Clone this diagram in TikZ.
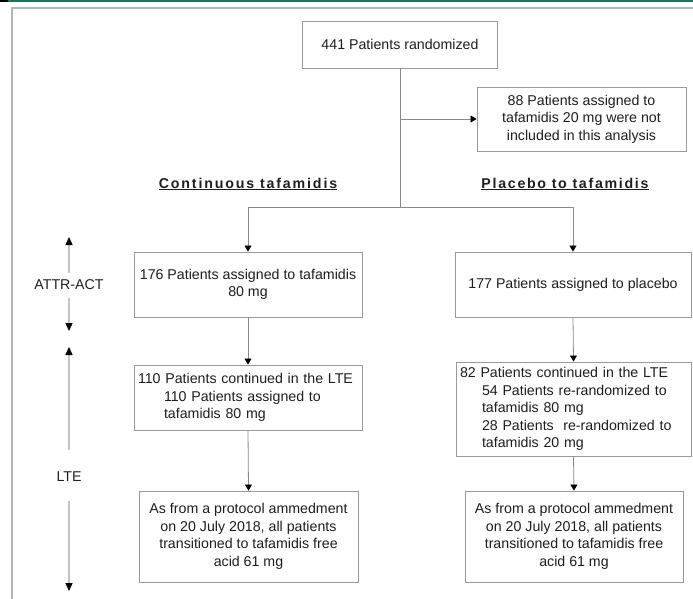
\documentclass[tikz,border=0pt]{standalone}
\usepackage{fontspec}
\setmainfont{Liberation Sans}
\usetikzlibrary{arrows.meta}
\definecolor{txt}{HTML}{1E1E1E}
\definecolor{boxline}{HTML}{9A9A9A}
\definecolor{conn}{HTML}{8A8A8A}
\definecolor{sidegray}{HTML}{C4C4C4}
\definecolor{framegray}{HTML}{B4B4B4}
\definecolor{tealtop}{HTML}{23705F}
\tikzset{
  flowbox/.style={draw=boxline, line width=0.9pt, fill=white, text=txt, align=center,
    inner sep=0pt, font=\fontsize{14.2}{17.5}\selectfont},
  leftbox/.style={draw=boxline, line width=0.9pt, fill=white, text=txt, align=left,
    inner xsep=4pt, inner ysep=0pt, font=\fontsize{14.2}{17.5}\selectfont},
  connector/.style={draw=conn, line width=0.8pt},
  arrowed/.style={connector, -{Triangle[color=black, width=7pt, length=6pt]}},
  sidearrow/.style={draw=sidegray, line width=1.4pt, -{Triangle[color=black, width=7pt, length=8pt]}},
  sidelabel/.style={text=txt, font=\fontsize{14.2}{17}\selectfont, inner sep=0pt},
  heading/.style={text=txt, inner sep=0pt, font=\fontsize{14.2}{17}\selectfont\bfseries}
}
\begin{document}
\begin{tikzpicture}[x=1pt, y=-1pt]
\useasboundingbox (0,0) rectangle (693,599);
% top teal rule and frame
\fill[tealtop] (0,0) rectangle (693,2);
\fill[black] (0,0) rectangle (8,2.5);
\draw[framegray, line width=2pt] (12,599) -- (12,8) -- (693,8);

% boxes
\node[flowbox, minimum width=195pt, minimum height=47pt] (top) at (400,44.5) {441 Patients randomized};
\node[flowbox, minimum width=209pt, minimum height=64pt] (excl) at (581.5,119)
  {88 Patients assigned to\\tafamidis 20 mg were not\\included in this analysis};

\node[heading] (hL) at (248,184) {\addfontfeatures{LetterSpace=13}\underline{Continuous tafamidis}};
\node[heading] (hR) at (565,184) {\addfontfeatures{LetterSpace=12}\underline{Placebo to tafamidis}};

\node[flowbox, minimum width=228pt, minimum height=65pt] (L1) at (248,284.5)
  {176 Patients assigned to tafamidis\\80 mg};
\node[flowbox, minimum width=236pt, minimum height=65pt] (R1) at (573,284.5)
  {177 Patients assigned to placebo};

\node[leftbox, text width=220pt, minimum height=65pt] (L2) at (248,397.5)
  {110 Patients continued in the LTE\\\hspace*{26pt}110 Patients assigned to\\\hspace*{26pt}tafamidis 80 mg};
\node[leftbox, text width=227pt, minimum height=94pt] (R2) at (573.5,409)
  {82 Patients continued in the LTE\\\hspace*{22pt}54 Patients re-randomized to\\\hspace*{22pt}tafamidis 80 mg\\\hspace*{22pt}28 Patients\ \ re-randomized to\\\hspace*{22pt}tafamidis 20 mg};

\node[flowbox, minimum width=219pt, minimum height=91pt] (L3) at (248.5,536.5)
  {As from a protocol ammedment\\on 20 July 2018, all patients\\transitioned to tafamidis free\\acid 61 mg};
\node[flowbox, minimum width=218pt, minimum height=91pt] (R3) at (574,536.5)
  {As from a protocol ammedment\\on 20 July 2018, all patients\\transitioned to tafamidis free\\acid 61 mg};

% connectors
\coordinate (split) at (400,207);
\coordinate (branch) at (400,119);
\coordinate (splitL) at (248,207);
\coordinate (splitR) at (573,207);
\draw[connector] (top.south) -- (split);
\draw[arrowed] (branch) -- (excl.west);
\draw[connector] (splitL) -- (splitR);
\draw[arrowed] (splitL) -- (L1.north);
\draw[arrowed] (splitR) -- (R1.north);
\draw[arrowed] (L1.south) -- (L2.north);
\draw[arrowed] (L2.south) -- (L3.north);
\draw[arrowed] (R1.south) -- (R2.north);
\draw[arrowed] (R2.south) -- (R3.north);

% phase labels with arrows
\node[sidelabel] (attr) at (69,285) {ATTR-ACT};
\node[sidelabel] (lte) at (69,477) {LTE};
\coordinate (attrA) at (69,273);
\coordinate (attrB) at (69,298);
\coordinate (attrTop) at (69,237);
\coordinate (attrBot) at (69,331);
\coordinate (lteA) at (69,450);
\coordinate (lteB) at (69,501);
\coordinate (lteTop) at (69,347);
\coordinate (lteBot) at (69,591);
\draw[sidearrow] (attrA) -- (attrTop);
\draw[sidearrow] (attrB) -- (attrBot);
\draw[sidearrow] (lteA) -- (lteTop);
\draw[sidearrow] (lteB) -- (lteBot);
\end{tikzpicture}
\end{document}
